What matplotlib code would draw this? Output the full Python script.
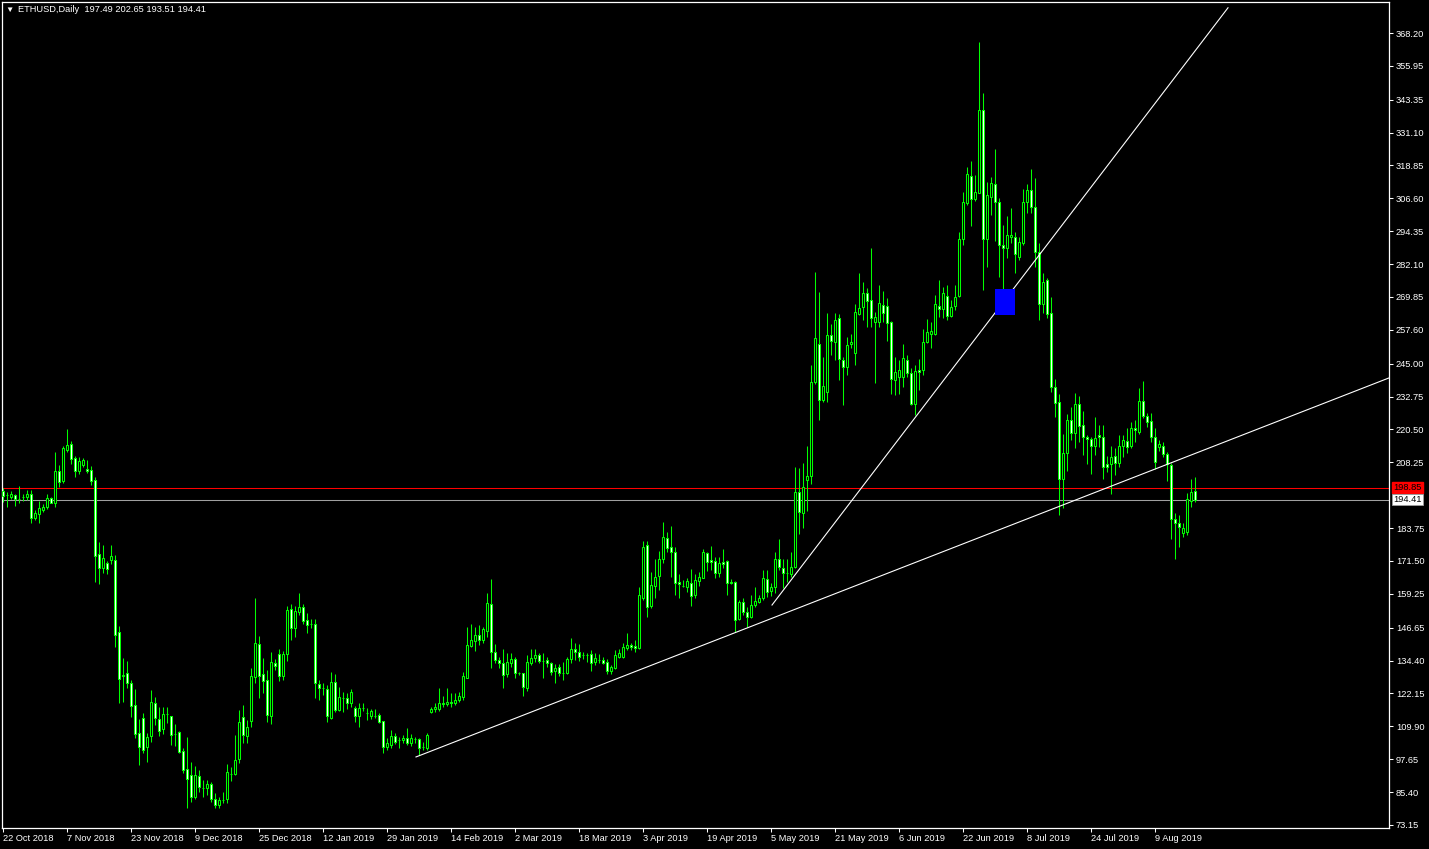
# ETHUSD daily candles, MT4 "green on black" look
import numpy as np
import matplotlib
matplotlib.use("Agg")
import matplotlib.pyplot as plt
from matplotlib.patches import Rectangle

# OHLC values, one per daily bar (22 Oct 2018 .. mid Aug 2019)
opens = [
    197.7, 196.0, 195.2, 196.0, 194.5, 195.5, 195.2, 196.4, 187.6, 189.1,
    190.5, 191.7, 194.8, 193.2, 205.0, 201.4, 212.8, 215.1, 209.7, 205.1,
    207.3, 205.6, 205.4, 201.7, 174.0, 168.8, 170.7, 172.0, 171.7, 144.9,
    128.5, 129.6, 125.9, 117.8, 107.6, 112.9, 102.1, 106.4, 118.5, 112.5,
    108.8, 114.4, 113.6, 107.2, 107.8, 100.7, 94.0, 91.7, 83.7, 91.5,
    87.0, 86.8, 88.6, 83.0, 80.6, 82.5, 82.7, 92.3, 92.3, 97.8,
    113.2, 106.4, 112.0, 128.4, 140.5, 129.3, 127.2, 113.9, 133.4, 136.9,
    128.8, 136.7, 153.5, 146.7, 152.6, 154.2, 149.5, 147.9, 147.9, 125.7,
    124.1, 123.8, 113.1, 126.3, 116.0, 120.6, 120.5, 118.5, 116.7, 113.9,
    116.9, 115.0, 113.8, 113.9, 114.1, 111.9, 102.3, 102.9, 106.3, 104.8,
    104.7, 105.4, 103.6, 105.1, 105.1, 102.3, 102.0, 115.1, 116.2, 116.2,
    118.7, 118.2, 119.0, 118.5, 119.7, 120.9, 128.0, 139.9, 141.8, 143.9,
    142.1, 145.5, 155.5, 137.7, 134.6, 133.6, 129.4, 133.6, 134.9, 129.9,
    129.6, 124.1, 133.6, 135.2, 136.5, 134.4, 134.6, 133.4, 130.6, 132.1,
    129.9, 129.6, 134.9, 138.6, 137.7, 136.5, 136.5, 136.7, 134.0, 134.5,
    134.6, 133.7, 130.6, 131.8, 135.9, 135.9, 139.2, 140.2, 139.9, 139.2,
    157.9, 177.5, 154.9, 162.3, 166.0, 172.1, 179.9, 176.6, 174.7, 163.5,
    162.3, 161.9, 163.2, 158.8, 164.2, 165.3, 174.6, 171.9, 171.5, 166.9,
    171.0, 171.5, 163.8, 163.8, 149.9, 156.3, 152.4, 150.8, 155.1, 156.3,
    157.6, 164.7, 160.4, 161.7, 172.1, 168.8, 167.1, 166.7, 169.4, 197.3,
    189.3, 201.7, 203.0, 238.3, 252.2, 231.5, 234.6, 255.7, 253.0, 261.9,
    246.4, 243.6, 252.2, 249.1, 263.5, 266.0, 271.2, 268.7, 260.6, 260.6,
    266.9, 266.5, 260.4, 238.9, 239.9, 239.9, 246.4, 241.7, 229.9, 242.7,
    242.7, 253.2, 255.9, 255.9, 266.6, 265.2, 270.3, 262.8, 266.6, 270.3,
    291.4, 304.7, 315.0, 306.3, 308.7, 339.5, 291.3, 307.2, 311.9, 305.1,
    289.2, 288.0, 292.1, 292.1, 284.9, 289.8, 305.3, 309.7, 303.2, 286.7,
    267.2, 276.2, 263.8, 236.2, 230.6, 201.9, 211.6, 224.1, 219.3, 230.0,
    222.2, 217.6, 216.8, 214.3, 218.4, 217.6, 207.6, 207.5, 210.6, 208.1,
    214.3, 216.2, 214.3, 220.9, 219.7, 231.1, 225.5, 223.6, 217.6, 214.1,
    214.3, 211.2, 207.3, 187.0, 185.5, 181.8, 182.2, 194.0, 197.49,
]
highs = [
    198.6, 197.3, 197.6, 196.4, 199.4, 196.4, 197.9, 197.9, 190.5, 193.8,
    192.6, 196.4, 195.4, 212.1, 207.3, 214.3, 220.7, 216.2, 210.6, 210.4,
    209.7, 209.1, 206.9, 202.7, 178.4, 177.5, 171.5, 177.5, 173.7, 147.1,
    135.2, 134.2, 127.2, 123.8, 112.6, 114.9, 107.3, 123.4, 120.8, 117.2,
    117.2, 117.1, 113.8, 110.6, 108.1, 101.7, 106.0, 96.5, 95.1, 93.6,
    89.9, 89.9, 89.0, 84.9, 83.7, 85.6, 95.9, 94.9, 106.7, 116.0,
    117.8, 112.3, 131.7, 157.9, 143.6, 135.2, 130.9, 137.7, 135.0, 138.6,
    138.0, 154.7, 155.5, 154.7, 159.5, 155.5, 152.0, 149.8, 149.8, 127.2,
    125.9, 125.3, 130.0, 129.4, 124.7, 122.6, 122.2, 123.8, 117.5, 118.5,
    118.7, 116.6, 116.2, 116.4, 115.0, 111.9, 105.7, 108.5, 107.5, 105.8,
    106.7, 109.2, 107.0, 105.8, 105.6, 103.9, 107.5, 117.2, 118.5, 124.3,
    121.2, 124.1, 122.4, 122.4, 122.8, 130.0, 147.0, 148.0, 147.0, 147.6,
    147.0, 159.5, 164.8, 140.6, 135.8, 138.7, 137.1, 137.1, 135.8, 130.3,
    129.6, 136.5, 138.9, 138.6, 137.3, 137.1, 135.8, 134.0, 133.1, 133.1,
    134.0, 135.8, 142.7, 140.8, 140.6, 137.7, 137.1, 138.3, 137.1, 136.9,
    135.8, 134.9, 132.7, 138.3, 138.8, 140.8, 144.8, 140.8, 142.1, 161.9,
    178.9, 178.9, 167.5, 172.2, 175.3, 186.2, 182.4, 184.5, 176.6, 166.5,
    164.4, 165.3, 168.4, 166.7, 167.5, 176.0, 175.0, 177.1, 173.1, 172.9,
    175.8, 171.9, 164.7, 164.0, 157.0, 157.6, 154.5, 158.8, 161.9, 158.8,
    168.1, 168.1, 163.4, 175.0, 179.7, 172.2, 172.2, 175.0, 206.4, 206.0,
    207.9, 214.3, 244.5, 279.3, 271.8, 247.6, 263.8, 259.8, 263.8, 263.5,
    247.4, 255.1, 255.9, 267.2, 278.9, 275.6, 273.1, 288.0, 264.4, 274.3,
    272.2, 269.4, 260.9, 247.6, 246.4, 252.3, 248.2, 243.3, 244.5, 246.6,
    257.8, 261.5, 260.7, 270.6, 276.2, 273.7, 274.3, 268.7, 274.3, 294.2,
    308.8, 318.4, 320.5, 315.3, 364.7, 346.0, 312.8, 314.7, 325.0, 306.6,
    296.7, 300.0, 302.9, 294.2, 292.3, 310.0, 311.9, 317.4, 314.1, 289.8,
    278.7, 276.8, 270.0, 239.3, 233.7, 218.8, 226.3, 229.0, 233.9, 232.9,
    227.4, 218.4, 217.8, 225.3, 222.2, 222.2, 210.6, 214.3, 213.5, 218.4,
    218.4, 220.9, 223.4, 224.1, 236.1, 238.7, 226.7, 226.5, 220.9, 216.6,
    215.9, 212.2, 208.0, 189.5, 188.6, 185.5, 196.7, 202.1, 202.65,
]
lows = [
    193.6, 191.7, 194.5, 192.1, 193.0, 194.0, 194.2, 185.8, 186.8, 185.8,
    189.9, 190.7, 193.0, 191.7, 199.2, 200.4, 212.2, 207.5, 202.9, 203.9,
    206.6, 204.1, 199.8, 163.8, 162.8, 167.1, 166.5, 170.2, 139.6, 118.7,
    119.1, 124.0, 113.5, 105.7, 95.6, 99.8, 96.5, 104.2, 110.4, 106.3,
    107.0, 111.0, 102.9, 102.6, 99.8, 92.4, 79.3, 81.8, 82.7, 85.6,
    83.4, 84.3, 81.8, 79.3, 79.3, 81.2, 81.5, 89.6, 91.8, 96.4,
    103.6, 103.6, 109.8, 126.1, 120.3, 122.2, 111.6, 110.6, 130.9, 126.9,
    127.2, 134.4, 142.1, 143.3, 151.4, 147.9, 144.8, 146.4, 120.6, 119.9,
    121.6, 111.6, 112.5, 115.1, 115.7, 115.4, 116.4, 117.2, 111.6, 109.5,
    115.6, 112.3, 112.8, 112.9, 111.0, 99.8, 101.1, 101.7, 103.3, 101.7,
    103.6, 102.9, 102.7, 103.8, 99.2, 101.1, 101.1, 114.8, 115.4, 115.5,
    117.0, 117.5, 117.2, 117.8, 119.0, 119.7, 127.8, 139.3, 138.1, 140.2,
    140.8, 143.3, 131.7, 133.6, 131.5, 124.3, 128.4, 132.1, 128.0, 129.0,
    121.3, 123.2, 132.7, 134.0, 133.4, 127.8, 132.1, 129.0, 126.2, 128.7,
    127.2, 129.4, 133.6, 134.6, 134.4, 134.9, 134.0, 130.5, 132.7, 133.6,
    133.1, 129.3, 129.3, 131.4, 135.2, 135.2, 138.3, 138.3, 137.7, 138.8,
    156.9, 150.8, 153.9, 157.6, 160.7, 170.9, 175.0, 165.7, 158.8, 157.6,
    161.9, 160.1, 154.7, 157.8, 162.3, 165.0, 167.9, 168.1, 165.0, 165.7,
    168.8, 158.8, 162.9, 145.2, 149.5, 151.4, 147.0, 150.1, 154.5, 155.7,
    157.0, 158.2, 158.5, 159.5, 168.1, 161.3, 163.8, 165.7, 168.8, 181.4,
    183.7, 190.2, 200.0, 237.5, 224.1, 230.9, 230.9, 248.2, 246.4, 238.9,
    229.6, 240.8, 250.7, 244.5, 263.1, 261.3, 258.5, 258.5, 237.9, 258.8,
    260.6, 253.4, 233.7, 233.3, 233.7, 236.4, 239.9, 229.6, 225.9, 235.2,
    240.8, 252.6, 250.7, 255.7, 262.3, 261.9, 261.3, 262.5, 265.0, 270.0,
    289.2, 304.1, 296.3, 305.7, 308.5, 272.4, 281.1, 300.4, 290.7, 277.4,
    270.0, 284.2, 289.8, 278.9, 283.6, 289.2, 301.0, 301.3, 280.9, 261.3,
    263.8, 261.9, 234.6, 225.3, 188.6, 191.1, 205.1, 216.6, 213.5, 215.7,
    211.0, 207.6, 203.9, 211.0, 214.1, 201.9, 204.8, 196.5, 203.5, 206.6,
    210.4, 211.6, 213.5, 215.9, 218.8, 224.7, 221.3, 215.9, 205.6, 212.6,
    210.4, 201.4, 179.7, 172.2, 176.8, 180.6, 181.2, 191.7, 193.51,
]
closes = [
    195.7, 196.0, 196.4, 194.5, 194.6, 195.5, 196.4, 187.6, 189.2, 191.1,
    191.5, 194.8, 193.2, 205.0, 201.0, 213.5, 214.6, 209.6, 205.1, 208.7,
    209.1, 205.0, 201.4, 173.5, 168.8, 172.7, 168.4, 173.2, 143.8, 127.4,
    129.0, 126.2, 117.6, 107.2, 102.1, 101.2, 105.8, 118.8, 112.9, 108.0,
    114.4, 114.4, 106.8, 107.2, 100.4, 93.7, 90.1, 83.7, 91.7, 87.4,
    87.0, 88.6, 83.0, 80.6, 82.5, 82.5, 92.8, 92.3, 97.3, 111.4,
    106.8, 109.5, 128.6, 140.8, 128.8, 126.9, 114.1, 133.8, 132.5, 128.8,
    136.9, 153.2, 146.7, 153.0, 154.2, 149.3, 147.7, 147.9, 125.9, 124.1,
    124.1, 113.8, 126.3, 116.0, 120.7, 120.6, 118.5, 122.6, 113.9, 116.9,
    116.9, 115.0, 115.6, 113.9, 111.4, 102.3, 103.8, 106.3, 104.2, 104.8,
    105.4, 103.6, 105.4, 105.1, 102.0, 102.3, 106.7, 116.2, 117.2, 118.7,
    118.2, 119.0, 118.5, 119.8, 121.2, 128.7, 140.2, 142.1, 143.9, 142.1,
    146.2, 155.7, 137.7, 134.6, 133.6, 129.0, 133.7, 134.9, 129.9, 129.6,
    124.4, 134.0, 135.2, 136.5, 134.2, 134.4, 133.6, 130.3, 131.5, 129.9,
    129.9, 134.9, 138.6, 137.7, 135.9, 136.5, 136.5, 133.6, 135.2, 134.5,
    133.6, 130.6, 132.1, 136.5, 137.1, 139.6, 140.2, 139.5, 139.2, 158.8,
    176.6, 154.5, 162.6, 165.7, 172.1, 180.3, 176.5, 175.0, 163.4, 162.8,
    162.3, 164.0, 158.6, 164.4, 165.4, 175.0, 171.2, 171.0, 167.2, 170.6,
    170.4, 163.2, 163.2, 149.5, 156.1, 152.6, 150.8, 155.1, 156.6, 157.6,
    165.0, 160.1, 161.7, 172.1, 169.4, 167.2, 167.1, 169.1, 197.1, 189.6,
    199.2, 203.2, 238.0, 254.4, 231.3, 236.7, 255.7, 253.6, 261.3, 246.6,
    243.6, 252.0, 252.9, 264.4, 265.6, 271.2, 268.5, 261.9, 262.3, 267.5,
    264.0, 260.3, 239.2, 241.8, 242.7, 247.0, 241.7, 229.9, 242.3, 241.8,
    253.0, 256.9, 257.2, 267.1, 265.2, 271.2, 262.8, 266.3, 270.0, 291.3,
    305.1, 315.5, 306.3, 308.8, 339.7, 291.3, 307.8, 312.2, 305.1, 289.2,
    288.0, 292.9, 292.9, 285.7, 290.5, 305.3, 309.7, 303.5, 286.7, 267.2,
    275.6, 263.7, 236.2, 230.5, 201.9, 211.6, 224.1, 219.1, 230.0, 221.9,
    217.6, 216.8, 214.3, 217.2, 217.6, 206.6, 206.6, 210.4, 208.1, 214.3,
    216.6, 213.8, 220.9, 220.3, 231.1, 225.5, 223.4, 217.6, 208.5, 215.0,
    211.2, 207.6, 187.0, 185.8, 184.3, 183.9, 194.5, 197.3, 194.41,
]

# date labels, one every 16 bars
date_labels = ["22 Oct 2018", "7 Nov 2018", "23 Nov 2018", "9 Dec 2018",
               "25 Dec 2018", "12 Jan 2019", "29 Jan 2019", "14 Feb 2019",
               "2 Mar 2019", "18 Mar 2019", "3 Apr 2019", "19 Apr 2019",
               "5 May 2019", "21 May 2019", "6 Jun 2019", "22 Jun 2019",
               "8 Jul 2019", "24 Jul 2019", "9 Aug 2019"]
DATE_STEP = 16

price_ticks = [368.20, 355.95, 343.35, 331.10, 318.85, 306.60, 294.35, 282.10,
               269.85, 257.60, 245.00, 232.75, 220.50, 208.25, 183.75, 171.50,
               159.25, 146.65, 134.40, 122.15, 109.90, 97.65, 85.40, 73.15]

ASK_PRICE = 198.85
BID_PRICE = 194.41

# drawn objects: two trend lines (bar, price anchors) and a box
trend_low = [(103.25, 98.5), (346.5, 239.7)]
trend_steep = [(192.25, 155.1), (306.25, 377.6)]
box_bars = (248, 253)
box_prices = (263.1, 272.8)

GREEN = "#00ff00"
W, H = 1429, 849

fig = plt.figure(figsize=(W / 100, H / 100), dpi=100, facecolor="black")
ax = fig.add_axes([2 / W, 21 / H, 1387 / W, 826 / H], facecolor="black")

x = np.arange(len(closes))
o = np.array(opens)
c = np.array(closes)
up = c >= o

ax.vlines(x, lows, highs, colors=GREEN, linewidth=0.75, zorder=2)
body_h = np.maximum(np.abs(c - o), 0.01)
ax.bar(x, body_h, bottom=np.minimum(o, c), width=0.5,
       color=np.where(up, "black", "white"), edgecolor=GREEN,
       linewidth=0.75, zorder=3)

# ask / bid lines
ax.axhline(ASK_PRICE, color="#ff0000", linewidth=0.75, zorder=1)
ax.axhline(BID_PRICE, color="#a0a0a0", linewidth=0.75, zorder=1)

# trend lines
for (x0, y0), (x1, y1) in (trend_low, trend_steep):
    ax.plot([x0, x1], [y0, y1], color="white", linewidth=0.8, zorder=4)

ax.add_patch(Rectangle((box_bars[0], box_prices[0]), box_bars[1] - box_bars[0],
                       box_prices[1] - box_prices[0], facecolor="#0000ff",
                       edgecolor="none", zorder=5))

ax.set_xlim(-0.25, 346.5)
ax.set_ylim(72.03, 379.75)

font = ["Liberation Sans", "DejaVu Sans"]

ax.set_xticks(np.arange(len(date_labels)) * DATE_STEP)
ax.set_xticklabels(date_labels, ha="left", family=font)
ax.yaxis.tick_right()
ax.set_yticks(price_ticks)
ax.set_yticklabels([f"{p:.2f}" for p in price_ticks], family=font)
ax.tick_params(axis="x", direction="out", length=3, pad=1, colors="white",
               labelsize=6.7, width=0.75)
ax.tick_params(axis="y", direction="out", length=3, pad=2, colors="white",
               labelsize=6.7, width=0.75)

for s in ax.spines.values():
    s.set_color("white")
    s.set_linewidth(0.9)

# current price boxes on the price scale
ax.annotate(f"{ASK_PRICE:.2f}", xy=(1, ASK_PRICE), xycoords=("axes fraction", "data"),
            xytext=(3, 0), textcoords="offset points", va="center", ha="left",
            fontsize=6.7, family=font, color="black", annotation_clip=False,
            bbox=dict(boxstyle="square,pad=0.12", fc="#ff0000", ec="#ff0000"))
ax.annotate(f"{BID_PRICE:.2f}", xy=(1, BID_PRICE), xycoords=("axes fraction", "data"),
            xytext=(3, 0), textcoords="offset points", va="center", ha="left",
            fontsize=6.7, family=font, color="black", annotation_clip=False,
            bbox=dict(boxstyle="square,pad=0.12", fc="white", ec="#a0a0a0", lw=0.6))

title = f"ETHUSD,Daily  {opens[-1]:.2f} {highs[-1]:.2f} {lows[-1]:.2f} {closes[-1]:.2f}"
fig.text(5 / W, 1 - 10 / H, "\u25bc", color="white", fontsize=6, family=font,
         va="center", ha="left")
fig.text(18 / W, 1 - 10 / H, title, color="white", fontsize=6.7, family=font,
         va="center", ha="left")

fig.savefig("out.png", dpi=100, facecolor="black")
